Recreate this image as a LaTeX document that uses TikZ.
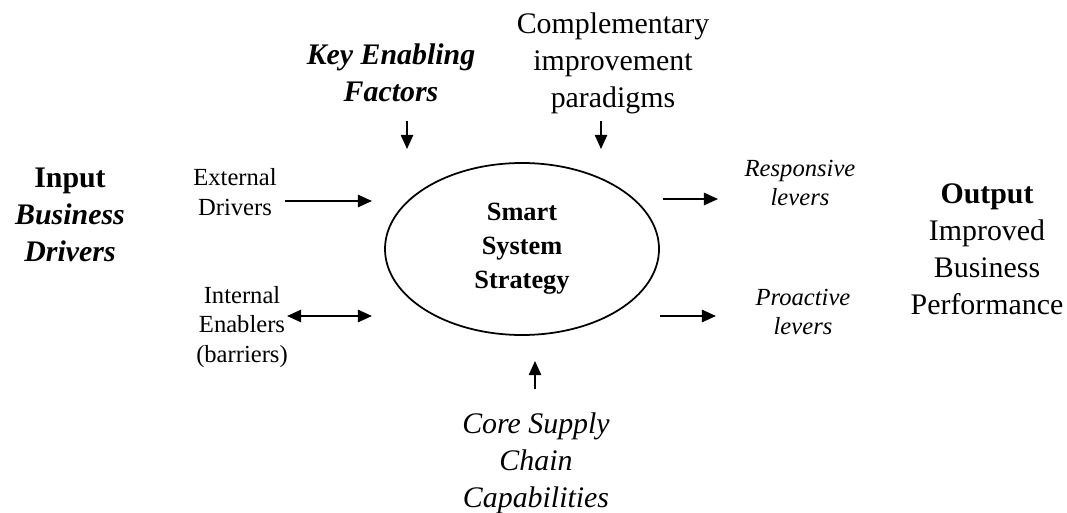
\documentclass[tikz,border=0pt]{standalone}
\usepackage{fontspec}
\setmainfont{Liberation Serif}
\usetikzlibrary{positioning, arrows.meta}
\usetikzlibrary{shapes.geometric}
\tikzset{
    big/.style={align=center, inner sep=0pt, font=\fontsize{17}{21}\selectfont},
    small/.style={align=center, inner sep=0pt, font=\fontsize{14}{16.8}\selectfont},
    flow/.style={line width=0.9pt, -{Triangle[length=8pt,width=7pt]}},
    twoway/.style={line width=0.9pt, {Triangle[length=8pt,width=7pt]}-{Triangle[length=8pt,width=7pt]}},
  }

\begin{document}
\begin{tikzpicture}[x=0.02cm,y=-0.02cm]
	\pgfmathsetmacro\rx{137}
	\pgfmathsetmacro\ry{86}
	\useasboundingbox (0,0) rectangle (1067,513);

	% centre
	\node[ellipse, draw, line width=1pt, minimum width={2*\rx*0.02cm}, minimum height={2*\ry*0.02cm}, inner sep=0pt,
		align=center, font=\fontsize{15}{19.4}\selectfont\bfseries] (sss) at (522,249) {Smart\\System\\Strategy};

	% inputs and outputs
	\node[big] (inp) at (70,215) {\textbf{Input}\\\textbf{\textit{Business}}\\\textbf{\textit{Drivers}}};
	\node[small] (ext) at (235,192) {External\\Drivers};
	\node[small] (intl) at (242,327) {Internal\\Enablers\\(barriers)};
	\node[big, font=\fontsize{17}{21}\selectfont\bfseries\itshape] (kef) at (391,73) {Key Enabling\\Factors};
	\node[big] (cip) at (613,63) {Complementary\\improvement\\paradigms};
	\node[small, font=\fontsize{14}{17}\selectfont\itshape] (resp) at (800,183) {Responsive\\levers};
	\node[small, font=\fontsize{14}{17}\selectfont\itshape] (proa) at (803,312) {Proactive\\levers};
	\node[big] (outp) at (987,249) {\textbf{Output}\\Improved\\Business\\Performance};
	\node[big, font=\fontsize{17}{21}\selectfont\itshape] (core) at (536,463) {Core Supply\\Chain\\Capabilities};

	% arrow ends
	\coordinate (extA) at (285,201);
	\coordinate (extB) at (372,201);
	\coordinate (intlA) at (287,316);
	\coordinate (intlB) at (372,316);
	\coordinate (respA) at (663,199);
	\coordinate (respB) at (718,199);
	\coordinate (proaA) at (660,316);
	\coordinate (proaB) at (716,316);
	\coordinate (kefA) at (407,121);
	\coordinate (kefB) at (407,149);
	\coordinate (cipA) at (601,121);
	\coordinate (cipB) at (601,149);
	\coordinate (coreA) at (535,389);
	\coordinate (coreB) at (535,361);

	\draw[flow] (extA) -- (extB);
	\draw[twoway] (intlA) -- (intlB);
	\draw[flow] (respA) -- (respB);
	\draw[flow] (proaA) -- (proaB);
	\draw[flow] (kefA) -- (kefB);
	\draw[flow] (cipA) -- (cipB);
	\draw[flow] (coreA) -- (coreB);
\end{tikzpicture}
\end{document}
